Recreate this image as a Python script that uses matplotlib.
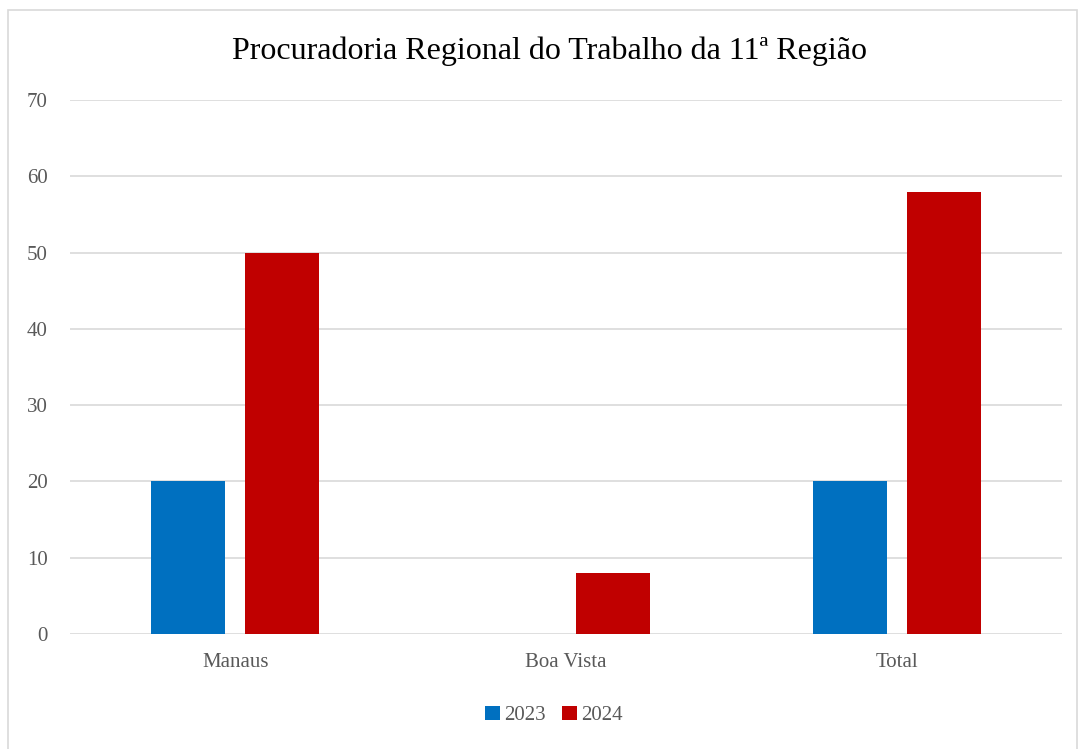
import matplotlib
matplotlib.use("Agg")
from matplotlib import pyplot as plt
from matplotlib.patches import Rectangle
import numpy as np

# data
categories = ["Manaus", "Boa Vista", "Total"]
years = ["2023", "2024"]
values_2023 = [20, 0, 20]
values_2024 = [50, 8, 58]
colors = ["#0070C0", "#C00000"]

plt.rcParams['font.family'] = ['Liberation Serif', 'DejaVu Serif']

fig = plt.figure(figsize=(10.8, 7.49), dpi=100)
ax = fig.add_axes([0.0648, 0.1535, 0.9185, 0.713])

x = np.arange(len(categories))
w = 0.224
off = 0.142
ax.bar(x - off, values_2023, width=w, color=colors[0], label=years[0], zorder=3)
ax.bar(x + off, values_2024, width=w, color=colors[1], label=years[1], zorder=3)

ax.set_xlim(-0.5, len(categories) - 0.5)
ax.set_ylim(0, 70)
ax.set_yticks(range(0, 71, 10))
ax.set_xticks(x)
ax.set_xticklabels(categories)
ax.grid(axis="y", color="#D9D9D9", linewidth=1.2, zorder=0)
for s in ax.spines.values():
    s.set_visible(False)
ax.tick_params(length=0, labelsize=15, labelcolor="#595959")
ax.tick_params(axis="y", pad=16)
ax.tick_params(axis="x", pad=14)

fig.text(0.509, 0.932, "Procuradoria Regional do Trabalho da 11ª Região",
         ha="center", va="center", fontsize=23, color="black")

leg = fig.legend(loc="center", bbox_to_anchor=(0.513, 0.045), ncol=2, frameon=False,
                 fontsize=15, handlelength=0.7, handleheight=0.7, handletextpad=0.2,
                 columnspacing=0.8)
for t in leg.get_texts():
    t.set_color("#595959")

fig.patches.append(Rectangle((0.0075, -0.01), 0.99, 0.997, transform=fig.transFigure,
                             fill=False, edgecolor="#D9D9D9", linewidth=1.2))

fig.savefig("out.png", dpi=100)
